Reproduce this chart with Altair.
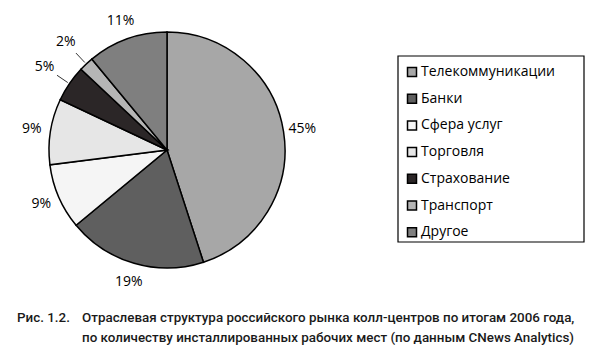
import altair as alt
import pandas as pd

categories = ["Телекоммуникации", "Банки", "Сфера услуг", "Торговля", "Страхование", "Транспорт", "Другое"]
shares = [45, 19, 9, 9, 5, 2, 11]
colors = ["#a7a7a7", "#5f5f5f", "#f5f5f5", "#e6e6e6", "#2b2627", "#b5b5b5", "#7f7f7f"]
caption_label = ["Рис. 1.2."]
caption_lines = [
    "Отраслевая структура российского рынка колл-центров по итогам 2006 года,",
    "по количеству инсталлированных рабочих мест (по данным CNews Analytics)",
]

W, H = 578, 342
CX, CY, R = 159, 142, 118
LABEL_FONT = "Open Sans"
CAP_FONT = "Roboto"

df = pd.DataFrame({
    "cat": categories,
    "share": shares,
    "order": list(range(len(categories))),
})
df["label"] = df["share"].astype(str) + "%"

color_scale = alt.Scale(domain=categories, range=colors)

pie = alt.Chart(df).mark_arc(
    outerRadius=R, stroke="black", strokeWidth=1.5, x=CX, y=CY
).encode(
    theta=alt.Theta("share:Q", stack=True),
    order=alt.Order("order:Q"),
    color=alt.Color(
        "cat:N",
        scale=color_scale,
        sort=categories,
        legend=alt.Legend(
            title=None,
            orient="none",
            legendX=397,
            legendY=57,
            padding=0,
            symbolType="square",
            symbolSize=81,
            symbolStrokeColor="black",
            symbolStrokeWidth=1.5,
            symbolOpacity=1,
            labelFont=LABEL_FONT,
            labelFontSize=14,
            labelColor="black",
            labelOffset=2,
            rowPadding=10.7,
        ),
    ),
)

geo = alt.Chart(df).transform_window(
    cum="sum(share)", sort=[alt.SortField("order")], frame=[None, 0]
).transform_calculate(
    mid="(datum.cum - datum.share / 2) / 100 * 2 * PI",
    lr="datum.share <= 5 ? 148 : 137",
).transform_calculate(
    lx=f"{CX} + datum.lr * sin(datum.mid)",
    ly=f"{CY} - datum.lr * cos(datum.mid)",
    ax=f"{CX} + {R + 2} * sin(datum.mid)",
    ay=f"{CY} - {R + 2} * cos(datum.mid)",
    bx=f"{CX} + {R + 15} * sin(datum.mid)",
    by=f"{CY} - {R + 15} * cos(datum.mid)",
)

labels = geo.mark_text(
    font=LABEL_FONT, fontSize=14, color="black", align="center", baseline="middle"
).encode(
    x=alt.X("lx:Q", scale=None, axis=None),
    y=alt.Y("ly:Q", scale=None, axis=None),
    text="label:N",
)

leaders = geo.transform_filter("datum.share <= 5").mark_rule(
    color="black", strokeWidth=0.8
).encode(
    x=alt.X("ax:Q", scale=None, axis=None),
    y=alt.Y("ay:Q", scale=None, axis=None),
    x2="bx:Q",
    y2="by:Q",
)

box = alt.Chart(pd.DataFrame({"k": [0]})).mark_rect(
    fill=None, stroke="black", strokeWidth=1.2
).encode(
    x=alt.value(390), x2=alt.value(576), y=alt.value(48), y2=alt.value(234)
)

cap_df = pd.DataFrame({"t": caption_lines, "i": [0, 1]})
cap = alt.Chart(cap_df).mark_text(
    font=CAP_FONT, fontSize=13.4, fontWeight=500, color="#1a1a1a",
    align="left", baseline="middle"
).encode(
    x=alt.value(74),
    y=alt.Y("i:Q", scale=alt.Scale(domain=[0, 1], range=[310, 330]), axis=None),
    text="t:N",
)

cap_lab = alt.Chart(pd.DataFrame({"t": caption_label})).mark_text(
    font=CAP_FONT, fontSize=13.4, fontWeight=500, color="#1a1a1a",
    align="left", baseline="middle"
).encode(x=alt.value(9), y=alt.value(310), text="t:N")

chart = alt.layer(pie, labels, leaders, box, cap, cap_lab).properties(
    width=W, height=H, autosize=alt.AutoSizeParams(type="none"), padding=0,
).configure_view(stroke=None).resolve_scale(x="independent", y="independent")

chart.save("out.html", embed_options={"renderer": "svg", "actions": False})
